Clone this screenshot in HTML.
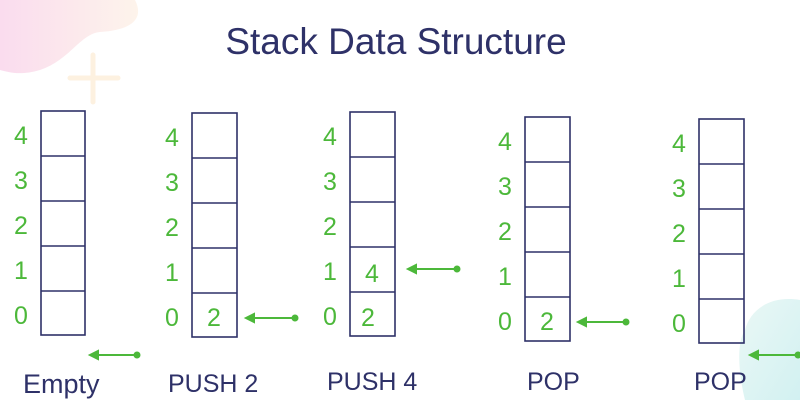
<!DOCTYPE html>
<html><head><style>
body{margin:0;width:800px;height:400px;overflow:hidden;background:#fff;}
svg{display:block}
text{font-family:"Liberation Sans",sans-serif;}
</style></head><body>
<svg width="800" height="400" xmlns="http://www.w3.org/2000/svg">
<defs>
<linearGradient id="pk" x1="0" y1="0" x2="1" y2="0"><stop offset="0" stop-color="#f9d3ea"/><stop offset="1" stop-color="#fdf1e6"/></linearGradient>
<linearGradient id="tl" x1="0" y1="0" x2="1" y2="1"><stop offset="0" stop-color="#e8f7f4"/><stop offset="1" stop-color="#cdeff0"/></linearGradient>
</defs>
<path d="M0 0 H135 C145 20 130 30 100 32 C80 34 70 60 40 70 C20 76 8 72 0 70 Z" fill="url(#pk)" opacity="0.8"/>
<path d="M93 55 V102 M70 78 H118" stroke="#fdf1e0" stroke-width="5" stroke-linecap="round"/>
<path d="M800 300 C770 295 750 310 745 330 C735 345 740 380 745 400 H800 Z" fill="url(#tl)" opacity="0.9"/>
<text x="396" y="54" font-size="37" fill="#2e3168" text-anchor="middle">Stack Data Structure</text>
<g fill="none" stroke="#2e3168" stroke-width="1.6">
<g transform="translate(41,111)"><rect width="44" height="224"/><path d="M0 45H44M0 90H44M0 135H44M0 180H44"/></g>
<g transform="translate(192,113)"><rect width="45" height="224"/><path d="M0 45H45M0 90H45M0 135H45M0 180H45"/></g>
<g transform="translate(350,112)"><rect width="45" height="224"/><path d="M0 45H45M0 90H45M0 135H45M0 180H45"/></g>
<g transform="translate(525,117)"><rect width="45" height="224"/><path d="M0 45H45M0 90H45M0 135H45M0 180H45"/></g>
<g transform="translate(699,119)"><rect width="45" height="224"/><path d="M0 45H45M0 90H45M0 135H45M0 180H45"/></g>
</g>
<g font-size="25" fill="#4cb83a" text-anchor="middle">
<g transform="translate(21,111)"><text y="33">4</text><text y="78">3</text><text y="123">2</text><text y="168">1</text><text y="213">0</text></g>
<g transform="translate(172,113)"><text y="33">4</text><text y="78">3</text><text y="123">2</text><text y="168">1</text><text y="213">0</text></g>
<g transform="translate(330,112)"><text y="33">4</text><text y="78">3</text><text y="123">2</text><text y="168">1</text><text y="213">0</text></g>
<g transform="translate(505,117)"><text y="33">4</text><text y="78">3</text><text y="123">2</text><text y="168">1</text><text y="213">0</text></g>
<g transform="translate(679,119)"><text y="33">4</text><text y="78">3</text><text y="123">2</text><text y="168">1</text><text y="213">0</text></g>
<text x="214" y="326">2</text>
<text x="372" y="282">4</text><text x="368" y="326">2</text>
<text x="547" y="330">2</text>
</g>
<g stroke="#4cb83a" stroke-width="2" fill="#4cb83a">
<line x1="92" y1="355" x2="137" y2="355"/><path d="M90 355 L98 351 L98 359Z"/><circle cx="137" cy="355" r="2.5"/>
<line x1="248" y1="318" x2="295" y2="318"/><path d="M246 318 L254 314 L254 322Z"/><circle cx="295" cy="318" r="2.5"/>
<line x1="410" y1="269" x2="457" y2="269"/><path d="M408 269 L416 265 L416 273Z"/><circle cx="457" cy="269" r="2.5"/>
<line x1="580" y1="322" x2="626" y2="322"/><path d="M578 322 L586 318 L586 326Z"/><circle cx="626" cy="322" r="2.5"/>
<line x1="752" y1="355" x2="798" y2="355"/><path d="M750 355 L758 351 L758 359Z"/><circle cx="798" cy="355" r="2.5"/>
</g>
<g font-size="25" fill="#2e3168">
<text x="23" y="393" font-size="27">Empty</text>
<text x="168" y="392">PUSH 2</text>
<text x="327" y="390">PUSH 4</text>
<text x="527" y="390">POP</text>
<text x="694" y="390">POP</text>
</g>
</svg>
</body></html>
